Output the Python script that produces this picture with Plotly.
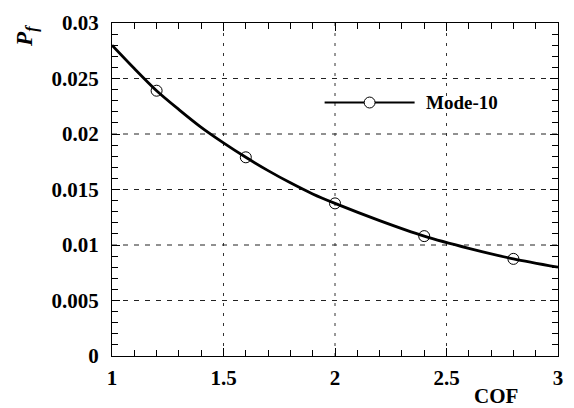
import plotly.graph_objects as go

# curve
cof_line = [1.0, 1.1, 1.2, 1.3, 1.4, 1.5, 1.6, 1.7, 1.8, 1.9, 2.0, 2.2, 2.4, 2.6, 2.8, 3.0]
pf_line = [0.0280, 0.0259, 0.0239, 0.0222, 0.0206, 0.0192, 0.0179, 0.0167, 0.0156,
           0.0146, 0.01375, 0.0122, 0.0108, 0.0097, 0.00875, 0.0080]
# markers
cof_pts = [1.2, 1.6, 2.0, 2.4, 2.8]
pf_pts = [0.0239, 0.0179, 0.01375, 0.0108, 0.00875]

series_name = "Mode-10"
x_ticks = [1, 1.5, 2, 2.5, 3]
x_tick_labels = ["1", "1.5", "2", "2.5", "3"]
y_ticks = [0, 0.005, 0.01, 0.015, 0.02, 0.025, 0.03]
y_tick_labels = ["0", "0.005", "0.01", "0.015", "0.02", "0.025", "0.03"]

FONT = "Liberation Serif"

fig = go.Figure()
fig.add_trace(go.Scatter(x=cof_line, y=pf_line, mode="lines",
                         line=dict(color="black", width=2.8, shape="spline", smoothing=0.8),
                         showlegend=False, hoverinfo="skip"))
fig.add_trace(go.Scatter(x=cof_pts, y=pf_pts, mode="markers",
                         marker=dict(symbol="circle-open", size=11, color="black",
                                     line=dict(width=1, color="black")),
                         showlegend=False))

# grid lines as shapes with distinct dash styles
for v in x_ticks[1:-1]:
    fig.add_shape(type="line", xref="x", yref="paper", x0=v, x1=v, y0=0, y1=1,
                  line=dict(color="#333", width=1, dash="3px,7px"), layer="below")
for v in y_ticks[1:-1]:
    fig.add_shape(type="line", xref="paper", yref="y", x0=0, x1=1, y0=v, y1=v,
                  line=dict(color="#222", width=1, dash="5px,6px"), layer="below")

# legend sample (drawn manually)
W, H = 574, 408
L, R, T, B = 112, 11, 21, 52
pw, ph = W - L - R, H - T - B
def px(xp): return (xp - L) / pw
def py(yp): return (H - B - yp) / ph
fig.add_shape(type="line", xref="paper", yref="paper", x0=px(327), x1=px(418),
              y0=py(101), y1=py(101), line=dict(color="black", width=2))
fig.add_shape(type="circle", xref="paper", yref="paper", x0=px(367), x1=px(378),
              y0=py(95.5), y1=py(106.5), line=dict(color="black", width=1), fillcolor="white")
fig.add_annotation(xref="paper", yref="paper", x=px(428), y=py(101), text="<b>" + series_name + "</b>",
                   showarrow=False, xanchor="left", yanchor="middle",
                   font=dict(family=FONT, size=19, color="black"))

# axis titles
fig.add_annotation(xref="paper", yref="paper", x=px(500), y=py(396), text="<b>COF</b>",
                   showarrow=False, xanchor="center", yanchor="middle",
                   font=dict(family=FONT, size=21, color="black"))
fig.add_annotation(xref="paper", yref="paper", x=px(26), y=py(34),
                   text="<b><i>P</i></b><sub><b><i>f</i></b></sub>", textangle=-90,
                   showarrow=False, xanchor="center", yanchor="middle",
                   font=dict(family=FONT, size=23, color="black"))

axis_common = dict(showline=True, linecolor="black", linewidth=1.2, mirror="ticks",
                   ticks="inside", ticklen=8, tickwidth=1, tickcolor="black",
                   showgrid=False, zeroline=False,
                   tickfont=dict(family=FONT, size=21, color="black"))
fig.update_xaxes(range=[1, 3], tickvals=x_ticks, ticktext=["<b>%s</b>" % t for t in x_tick_labels],
                 ticklabelstandoff=3,
                 minor=dict(dtick=0.1, ticks="inside", ticklen=6, tickcolor="black", showgrid=False),
                 **axis_common)
fig.update_yaxes(range=[0, 0.03], tickvals=y_ticks, ticktext=["<b>%s</b>" % t for t in y_tick_labels],
                 ticklabelstandoff=8,
                 minor=dict(dtick=0.001, ticks="inside", ticklen=6, tickcolor="black", showgrid=False),
                 **axis_common)

fig.update_layout(width=W, height=H, margin=dict(l=L, r=R, t=T, b=B),
                  font=dict(family=FONT, color="black"),
                  paper_bgcolor="white", plot_bgcolor="white", showlegend=False)

fig.write_html("out.html")
